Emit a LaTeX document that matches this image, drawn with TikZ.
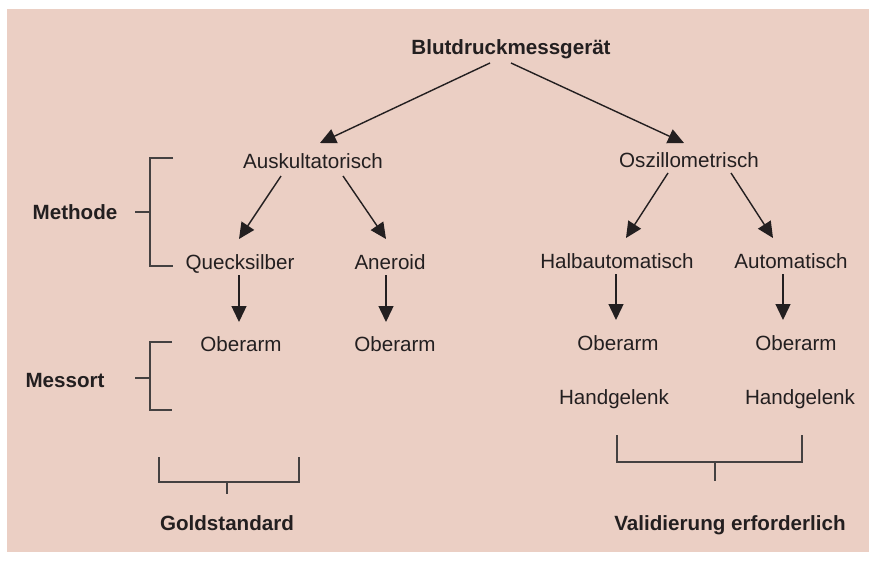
\documentclass[tikz,border=0pt]{standalone}
\usepackage{fontspec}
\setmainfont{Liberation Sans}
\usetikzlibrary{arrows.meta}
\definecolor{bgpink}{HTML}{EBCFC4}
\definecolor{ink}{HTML}{231F20}
\tikzset{
  lbl/.style={anchor=base,inner sep=0pt,text=ink,font=\fontsize{20.6}{24}\selectfont},
  blbl/.style={lbl,font=\fontsize{20.6}{24}\selectfont\bfseries},
  arr/.style={draw=ink,line width=1.4pt,-{Triangle[length=16pt,width=15pt]}},
  brk/.style={draw=ink!85,line width=1.2pt}
}
\begin{document}
\begin{tikzpicture}[x=1pt,y=-1pt]
\useasboundingbox (0,0) rectangle (869,560);
\fill[bgpink] (7,9) rectangle (869,552);
% nodes
\node[blbl] (top) at (511,54) {Blutdruckmessgerät};
\node[lbl] (ausk) at (313,168) {Auskultatorisch};
\node[lbl] (osz) at (689,167) {Oszillometrisch};
\node[lbl] (queck) at (240,269) {Quecksilber};
\node[lbl] (aner) at (390,269) {Aneroid};
\node[lbl] (halb) at (617,268) {Halbautomatisch};
\node[lbl] (auto) at (791,268) {Automatisch};
\node[lbl] (ober1) at (241,351) {Oberarm};
\node[lbl] (ober2) at (395,351) {Oberarm};
\node[lbl] (ober3) at (618,350) {Oberarm};
\node[lbl] (ober4) at (796,350) {Oberarm};
\node[lbl] (hand1) at (614,404) {Handgelenk};
\node[lbl] (hand2) at (800,404) {Handgelenk};
\node[blbl] (methode) at (75,219) {Methode};
\node[blbl] (messort) at (65,387) {Messort};
\node[blbl] (gold) at (227,530) {Goldstandard};
\node[blbl] (valid) at (730,530) {Validierung erforderlich};
% arrows
\draw[arr] ([shift={(-21pt,-9pt)}]top.base) -- ([shift={(7pt,25pt)}]ausk.base);
\draw[arr] ([shift={(0pt,-9pt)}]top.base) -- ([shift={(-5pt,24pt)}]osz.base);
\draw[arr] ([shift={(-32pt,-8pt)}]ausk.base) -- ([shift={(-1pt,30pt)}]queck.base);
\draw[arr] ([shift={(30pt,-8pt)}]ausk.base) -- ([shift={(-4pt,30pt)}]aner.base);
\draw[arr] ([shift={(-21pt,-6pt)}]osz.base) -- ([shift={(9pt,30pt)}]halb.base);
\draw[arr] ([shift={(42pt,-6pt)}]osz.base) -- ([shift={(-18pt,30pt)}]auto.base);
\draw[arr] ([shift={(-1pt,-6pt)}]queck.base) -- ([shift={(-2pt,29pt)}]ober1.base);
\draw[arr] ([shift={(-4pt,-6pt)}]aner.base) -- ([shift={(-9pt,29pt)}]ober2.base);
\draw[arr] ([shift={(-1pt,-6pt)}]halb.base) -- ([shift={(-2pt,30pt)}]ober3.base);
\draw[arr] ([shift={(-8pt,-6pt)}]auto.base) -- ([shift={(-13pt,30pt)}]ober4.base);
% brackets
\draw[brk] (173,158) -- (150,158) -- (150,266) -- (173,266);
\draw[brk] (135,212) -- (150,212);
\draw[brk] (172,342) -- (150,342) -- (150,410) -- (172,410);
\draw[brk] (135,378) -- (150,378);
\draw[brk] (159,457) -- (159,482) -- (299,482) -- (299,457);
\draw[brk] (227,482) -- (227,494);
\draw[brk] (617,435) -- (617,462) -- (802,462) -- (802,435);
\draw[brk] (715,462) -- (715,481);
\end{tikzpicture}
\end{document}
